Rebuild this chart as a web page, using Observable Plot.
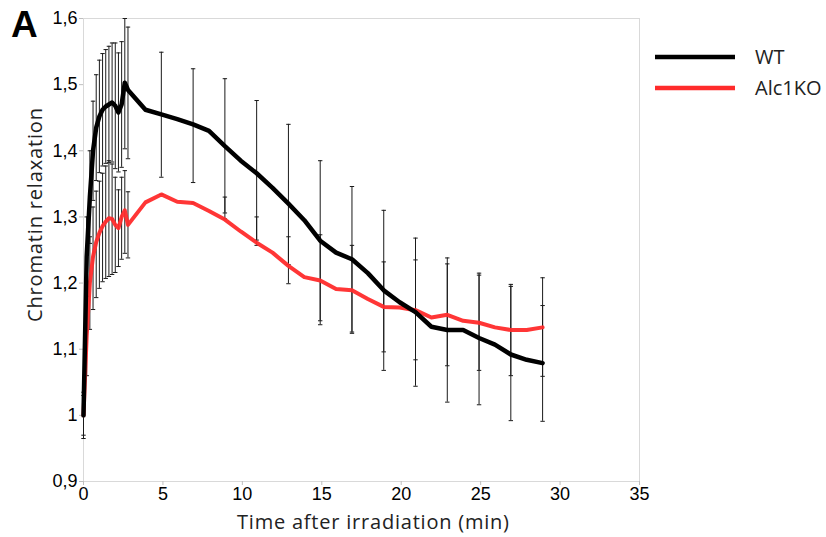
<!DOCTYPE html>
<html>
<head>
<meta charset="utf-8">
<script src="https://cdn.jsdelivr.net/npm/d3@7"></script>
<script src="https://cdn.jsdelivr.net/npm/@observablehq/plot@0.6"></script>
<style>
  html, body { margin: 0; padding: 0; background: #fff; }
  #chart { width: 826px; height: 537px; }
</style>
</head>
<body>
<div id="chart"></div>
<script>
// ---- data ----
const times = [0, 0.2, 0.4, 0.6, 0.8, 1.0, 1.2, 1.4, 1.6, 1.8, 2.0, 2.2, 2.4, 2.6, 2.8,
  3.9, 4.9, 5.9, 6.9, 7.9, 8.9, 9.9, 10.9, 11.9, 12.9, 13.9, 14.9, 15.9, 16.9, 17.9,
  18.9, 19.9, 20.9, 21.9, 22.9, 23.9, 24.9, 25.9, 26.9, 27.9, 28.9];
const wt = [1.00, 1.24, 1.33, 1.40, 1.435, 1.452, 1.462, 1.467, 1.470, 1.473, 1.468, 1.458, 1.470, 1.503, 1.492,
  1.462, 1.455, 1.448, 1.440, 1.430, 1.407, 1.385, 1.366, 1.344, 1.320, 1.295, 1.264, 1.246, 1.236, 1.215,
  1.189, 1.171, 1.156, 1.134, 1.129, 1.129, 1.117, 1.107, 1.092, 1.084, 1.079];
const alc1ko = [1.00, 1.12, 1.20, 1.24, 1.262, 1.276, 1.286, 1.293, 1.298, 1.297, 1.288, 1.283, 1.300, 1.310, 1.288,
  1.322, 1.334, 1.323, 1.321, 1.309, 1.296, 1.278, 1.261, 1.246, 1.226, 1.209, 1.204, 1.191, 1.189, 1.176,
  1.164, 1.163, 1.159, 1.148, 1.152, 1.143, 1.140, 1.133, 1.129, 1.129, 1.133];

// error bars (times where they are drawn, with low/high ends)
const errTimes = [0, 0.2, 0.4, 0.6, 0.8, 1.0, 1.2, 1.4, 1.6, 1.8, 2.0, 2.2, 2.4, 2.6, 2.8,
  4.9, 6.9, 8.9, 10.9, 12.9, 14.9, 16.9, 18.9, 20.9, 22.9, 24.9, 26.9, 28.9];
const wtLow = [0.965, 1.18, 1.26, 1.325, 1.355, 1.367, 1.377, 1.381, 1.382, 1.383, 1.373, 1.368, 1.375, 1.403, 1.388,
  1.360, 1.352, 1.306, 1.257, 1.199, 1.137, 1.124, 1.068, 1.044, 1.020, 1.016, 0.992, 0.991];
const wtHigh = [1.035, 1.30, 1.40, 1.475, 1.515, 1.537, 1.547, 1.553, 1.558, 1.563, 1.563, 1.548, 1.565, 1.600, 1.587,
  1.549, 1.524, 1.509, 1.476, 1.440, 1.385, 1.346, 1.310, 1.268, 1.238, 1.215, 1.195, 1.208];
const koLow = [0.97, 1.06, 1.13, 1.160, 1.178, 1.192, 1.202, 1.207, 1.210, 1.213, 1.216, 1.225, 1.236, 1.245, 1.238,
  1.334, 1.321, 1.297, 1.265, 1.228, 1.143, 1.126, 1.096, 1.084, 1.075, 1.068, 1.060, 1.059];
const koHigh = [1.03, 1.18, 1.27, 1.315, 1.339, 1.354, 1.366, 1.377, 1.385, 1.380, 1.360, 1.341, 1.360, 1.370, 1.338,
  1.334, 1.321, 1.330, 1.300, 1.270, 1.273, 1.257, 1.232, 1.235, 1.229, 1.212, 1.198, 1.166];

const yTicks = [0.9, 1.0, 1.1, 1.2, 1.3, 1.4, 1.5, 1.6];
const xTicks = [0, 5, 10, 15, 20, 25, 30, 35];
const seriesNames = ["WT", "Alc1KO"];
const seriesColors = ["#000000", "#ff2b2b"];

// ---- tables ----
const wtRows = times.map((t, i) => ({t, v: wt[i]}));
const koRows = times.map((t, i) => ({t, v: alc1ko[i]}));
const errRows = [];
errTimes.forEach((t, i) => {
  errRows.push({t, lo: wtLow[i], hi: wtHigh[i]});
  errRows.push({t, lo: koLow[i], hi: koHigh[i]});
});
const capRows = errRows.flatMap(d => [{t: d.t, v: d.lo}, {t: d.t, v: d.hi}]);

const capSymbol = {
  draw(ctx, size) {
    const r = Math.sqrt(size / Math.PI);
    ctx.moveTo(-r, 0);
    ctx.lineTo(r, 0);
  }
};

const fmtY = d => String(+d.toFixed(1)).replace(".", ",");

const chart = Plot.plot({
  width: 826,
  height: 537,
  marginLeft: 83,
  marginRight: 187,
  marginTop: 18,
  marginBottom: 56,
  style: {fontFamily: "'Liberation Sans', Arial, sans-serif", fontSize: "18px", background: "#fff", color: "#000"},
  x: {domain: [0, 35]},
  y: {domain: [0.9, 1.6]},
  marks: [
    Plot.frame({stroke: "#d9d9d9"}),
    Plot.axisY({ticks: yTicks, tickFormat: fmtY, tickSize: 4, tickPadding: 2, stroke: "#bfbfbf", fill: "#000", fontSize: 18, label: null}),
    Plot.axisX({ticks: xTicks, tickFormat: d => String(d), tickSize: 4, tickPadding: 2, stroke: "#bfbfbf", fill: "#000", fontSize: 18, label: null}),
    Plot.ruleX(errRows, {x: "t", y1: "lo", y2: "hi", stroke: "#1a1a1a", strokeWidth: 1}),
    Plot.dot(capRows, {x: "t", y: "v", r: 2.2, symbol: capSymbol, stroke: "#1a1a1a", strokeWidth: 1, fill: "none"}),
    Plot.line(koRows, {x: "t", y: "v", stroke: seriesColors[1], strokeWidth: 4, strokeOpacity: 0.95, curve: "linear"}),
    Plot.line(wtRows, {x: "t", y: "v", stroke: seriesColors[0], strokeWidth: 4.5, curve: "linear"})
  ]
});

document.getElementById("chart").appendChild(chart);

// ---- titles and legend ----
const svg = d3.select(chart);
svg.append("text")
  .attr("x", 11).attr("y", 37)
  .attr("text-anchor", "start")
  .attr("font-family", "'Liberation Sans', Arial, sans-serif")
  .attr("font-weight", "bold").attr("font-size", 37)
  .text("A");
svg.append("text")
  .attr("transform", "translate(42,215) rotate(-90)")
  .attr("text-anchor", "middle")
  .attr("font-family", "'Open Sans', sans-serif").attr("font-size", 20)
  .attr("textLength", 214).attr("lengthAdjust", "spacing")
  .attr("fill", "#222")
  .text("Chromatin relaxation");
svg.append("text")
  .attr("x", 373).attr("y", 529)
  .attr("text-anchor", "middle")
  .attr("font-family", "'Open Sans', sans-serif").attr("font-size", 20)
  .attr("textLength", 272).attr("lengthAdjust", "spacing")
  .attr("fill", "#222")
  .text("Time after irradiation (min)");

const legend = svg.append("g");
seriesNames.forEach((name, i) => {
  const y = 57 + i * 31;
  legend.append("line")
    .attr("x1", 655).attr("x2", 735).attr("y1", y).attr("y2", y)
    .attr("stroke", seriesColors[i]).attr("stroke-width", 4.5);
  legend.append("text")
    .attr("x", 755).attr("y", y).attr("dy", "0.35em")
    .attr("text-anchor", "start")
    .attr("font-family", "'Open Sans', sans-serif").attr("font-size", 20)
    .attr("fill", "#222")
    .text(name);
});
</script>
</body>
</html>
